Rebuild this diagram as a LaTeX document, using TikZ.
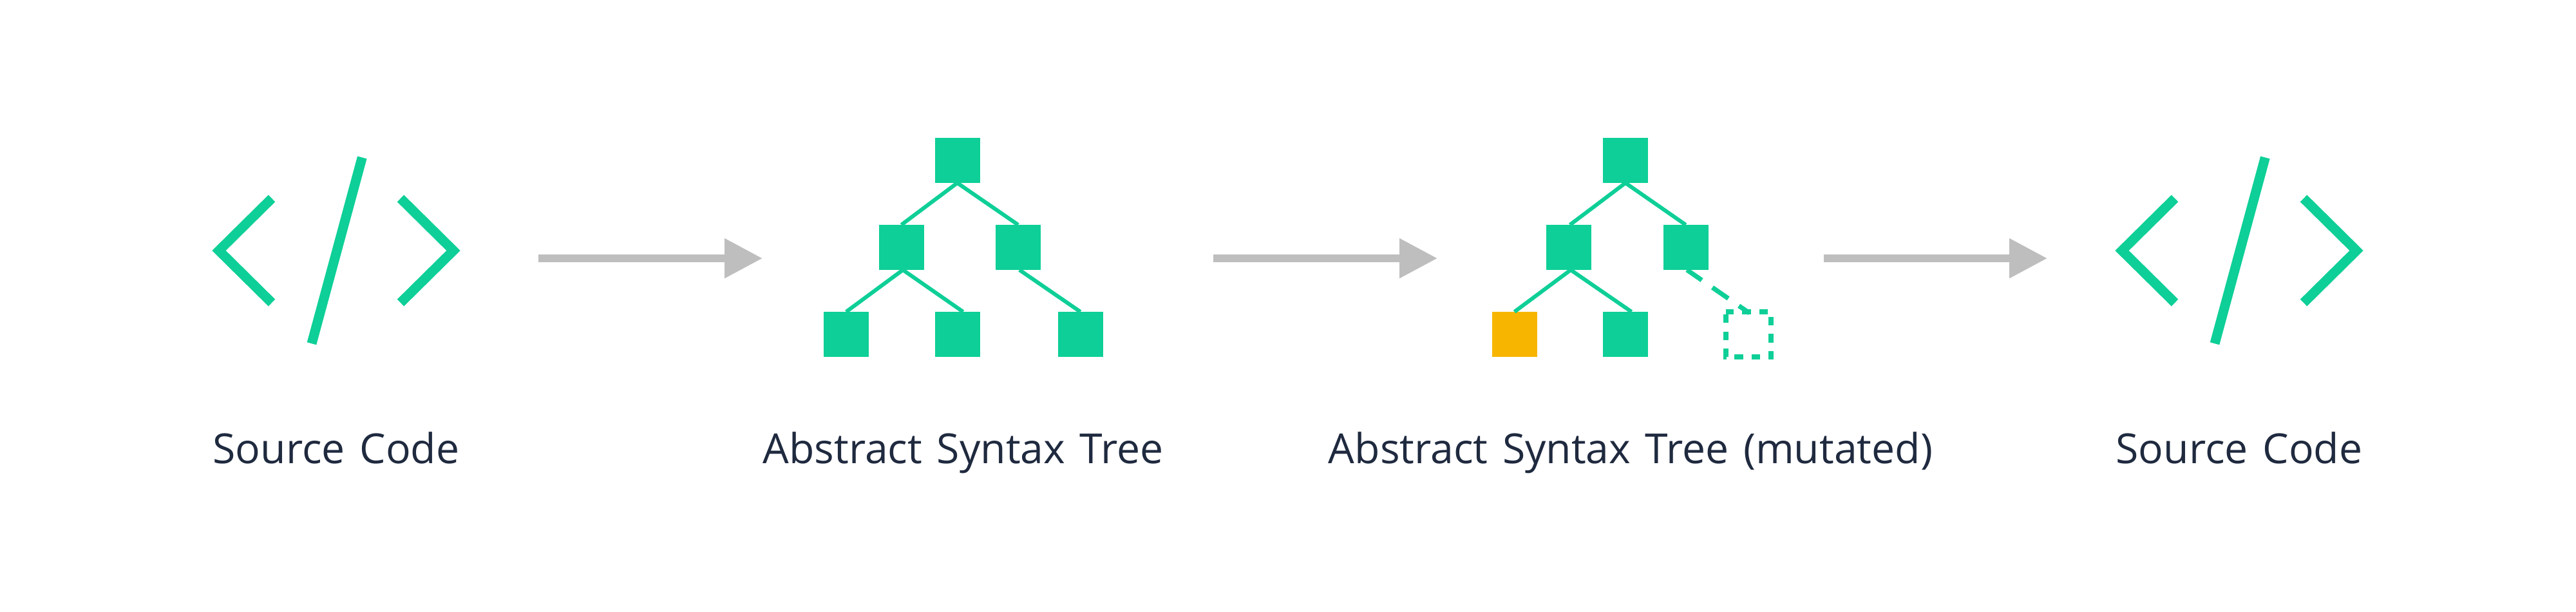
\documentclass[tikz,border=0pt]{standalone}
\usepackage{fontspec}
\setmainfont{Open Sans}[WordSpace=1.35]
\usetikzlibrary{arrows.meta}
\definecolor{mint}{HTML}{0ECF97}
\definecolor{amber}{HTML}{F7B500}
\definecolor{ashgray}{HTML}{BEBEBE}
\definecolor{inkblue}{HTML}{1F2A3F}
\tikzset{
  treenode/.style={fill=mint,inner sep=0,outer sep=0,minimum size=.7cm},
  branch/.style={draw=mint,line width=.06cm},
  codestroke/.style={draw=mint,line width=.15cm},
  flow/.style={draw=ashgray,line width=.12cm,-{Triangle[length=.59cm,width=.59cm]}},
  caption/.style={text=inkblue,font=\fontsize{18.3}{22}\selectfont,anchor=base,inner sep=0}
}
\begin{document}
\begin{tikzpicture}
  \useasboundingbox (0,0) rectangle (40,9.5);
  % first code icon
  \draw[codestroke] (4.22,6.42) -- (3.40,5.61) -- (4.22,4.80);
  \draw[codestroke] (6.22,6.42) -- (7.04,5.61) -- (6.22,4.80);
  \draw[codestroke] (5.623,7.055) -- (4.84,4.167);
  % last code icon
  \draw[codestroke] (33.77,6.42) -- (32.95,5.61) -- (33.77,4.80);
  \draw[codestroke] (35.77,6.42) -- (36.59,5.61) -- (35.77,4.80);
  \draw[codestroke] (35.173,7.055) -- (34.39,4.167);
  % arrows
  \coordinate (flowAs) at (8.36,5.49);
  \coordinate (flowAe) at (11.84,5.49);
  \coordinate (flowBs) at (18.84,5.49);
  \coordinate (flowBe) at (22.32,5.49);
  \coordinate (flowCs) at (28.316,5.49);
  \coordinate (flowCe) at (31.79,5.49);
  \draw[flow] (flowAs) -- (flowAe);
  \draw[flow] (flowBs) -- (flowBe);
  \draw[flow] (flowCs) -- (flowCe);
  % tree
  \node[treenode] (rootA)  at (14.865,7.01) {};
  \node[treenode] (midAl)  at (13.996,5.66) {};
  \node[treenode] (midAr)  at (15.81,5.66)  {};
  \node[treenode] (leafAl) at (13.139,4.31) {};
  \node[treenode] (leafAm) at (14.865,4.31) {};
  \node[treenode] (leafAr) at (16.776,4.31) {};
  \draw[branch] (midAl.north) -- (rootA.south) -- (midAr.north);
  \draw[branch] (leafAl.north) -- ([xshift=.024cm]midAl.south) -- ([xshift=.09cm]leafAm.north);
  \draw[branch] ([xshift=.02cm]midAr.south) -- (leafAr.north);
  % mutated tree
  \node[treenode] (rootB)  at (25.24,7.01) {};
  \node[treenode] (midBl)  at (24.36,5.66) {};
  \node[treenode] (midBr)  at (26.18,5.66) {};
  \node[treenode,fill=amber] (leafBl) at (23.516,4.31) {};
  \node[treenode] (leafBm) at (25.24,4.31) {};
  \node[treenode,fill=none]  (leafBr) at (27.15,4.31) {};
  \draw[branch] ([xshift=.018cm]midBl.north) -- (rootB.south) -- ([xshift=-.004cm]midBr.north);
  \draw[branch] (leafBl.north) -- ([xshift=.03cm]midBl.south) -- ([xshift=.094cm]leafBm.north);
  \draw[draw=mint,line width=.072cm,dash pattern=on .30cm off .20cm,dash phase=.02cm]
    ([xshift=.015cm]midBr.south) -- ([xshift=.015cm,yshift=-.02cm]leafBr.north);
  \draw[draw=mint,line width=.072cm,dash pattern=on .132cm off .1315cm,dash phase=.2205cm]
    (leafBr.north west) -- (leafBr.south west) -- (leafBr.south east) -- (leafBr.north east) -- cycle;
  % captions
  \node[caption] (codeA) at (5.22,2.30)   {Source Code};
  \node[caption] (astA)  at (14.955,2.30) {Abstract Syntax Tree};
  \node[caption] (astB)  at (25.32,2.30)  {Abstract Syntax Tree (mutated)};
  \node[caption] (codeB) at (34.77,2.30)  {Source Code};
\end{tikzpicture}
\end{document}
